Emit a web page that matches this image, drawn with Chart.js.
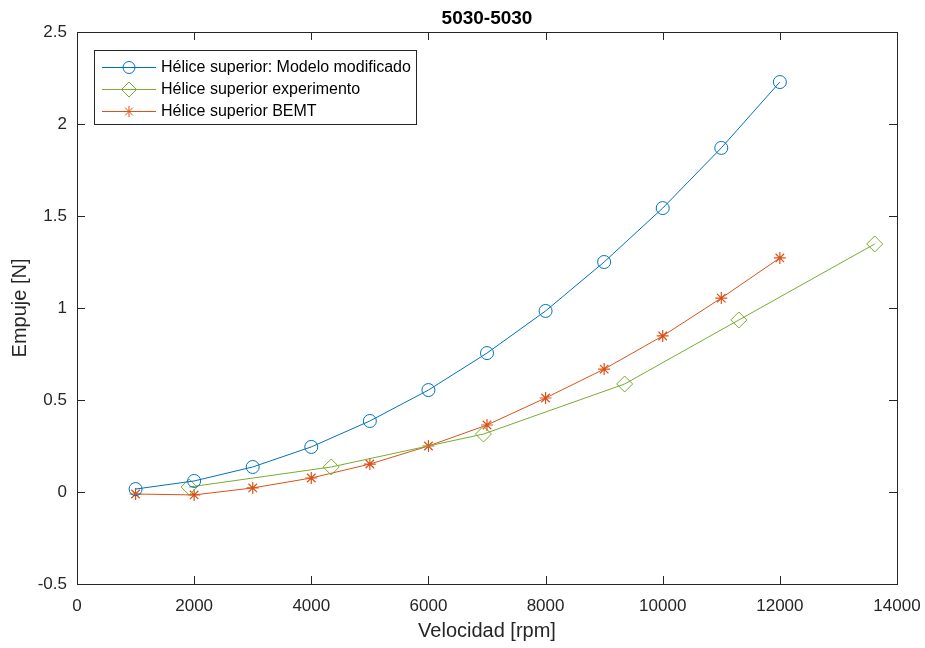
<!DOCTYPE html>
<html lang="es">
<head>
<meta charset="UTF-8">
<title>5030-5030</title>
<style>
  html, body { margin: 0; padding: 0; background: #fff; }
  #wrap { width: 925px; height: 648px; }
</style>
<script src="https://cdn.jsdelivr.net/npm/chart.js"></script>
</head>
<body>
<div id="wrap"><canvas id="empuje" width="925" height="648"></canvas></div>
<script>
// rpm y empuje de cada curva
const rpmModelo = [1000, 2000, 3000, 4000, 5000, 6000, 7000, 8000, 9000, 10000, 11000, 12000];
const empujeModelo = [0.016, 0.06, 0.136, 0.245, 0.386, 0.554, 0.755, 0.984, 1.25, 1.543, 1.87, 2.228];

const rpmExperimento = [1915, 4340, 6940, 9350, 11300, 13620];
const empujeExperimento = [0.027, 0.136, 0.315, 0.587, 0.935, 1.348];

const rpmBEMT = [1000, 2000, 3000, 4000, 5000, 6000, 7000, 8000, 9000, 10000, 11000, 12000];
const empujeBEMT = [-0.011, -0.016, 0.022, 0.076, 0.152, 0.25, 0.364, 0.511, 0.668, 0.848, 1.054, 1.272];

const xTicks = [0, 2000, 4000, 6000, 8000, 10000, 12000, 14000];
const yTicks = [-0.5, 0, 0.5, 1, 1.5, 2, 2.5];

const seriesNames = ['Hélice superior: Modelo modificado', 'Hélice superior experimento', 'Hélice superior BEMT'];

const azul = '#0072BD', verde = '#77AC30', naranja = '#D95319';
const FONT = '"Liberation Sans", Arial, sans-serif';

function puntos(xs, ys) {
  return xs.map((x, i) => ({ x: x, y: ys[i] }));
}

// ejes estilo MATLAB: caja completa, ticks hacia dentro, leyenda dentro
const ejesMatlab = {
  id: 'ejesMatlab',
  afterDraw(chart) {
    const ctx = chart.ctx;
    const a = chart.chartArea;
    const xs = chart.scales.x, ys = chart.scales.y;
    ctx.save();
    ctx.strokeStyle = '#262626';
    ctx.lineWidth = 1;
    ctx.beginPath();
    xTicks.forEach(v => {
      const px = Math.round(xs.getPixelForValue(v)) + 0.5;
      ctx.moveTo(px, a.bottom); ctx.lineTo(px, a.bottom - 8);
      ctx.moveTo(px, a.top); ctx.lineTo(px, a.top + 8);
    });
    yTicks.forEach(v => {
      const py = Math.round(ys.getPixelForValue(v)) + 0.5;
      ctx.moveTo(a.left, py); ctx.lineTo(a.left + 8, py);
      ctx.moveTo(a.right, py); ctx.lineTo(a.right - 8, py);
    });
    ctx.stroke();
    ctx.strokeRect(Math.round(a.left) + 0.5, Math.round(a.top) + 0.5,
                   Math.round(a.right - a.left), Math.round(a.bottom - a.top));

    // título
    ctx.fillStyle = '#000';
    ctx.font = 'bold 19px ' + FONT;
    ctx.textAlign = 'center';
    ctx.textBaseline = 'alphabetic';
    ctx.fillText('5030-5030', (a.left + a.right) / 2, 24);

    // leyenda
    const lx = 94, ly = 50, lw = 322, lh = 74;
    ctx.fillStyle = '#fff';
    ctx.fillRect(lx, ly, lw, lh);
    ctx.strokeStyle = '#262626';
    ctx.strokeRect(lx + 0.5, ly + 0.5, lw, lh);
    ctx.font = '16px ' + FONT;
    ctx.textAlign = 'left';
    ctx.textBaseline = 'middle';
    chart.data.datasets.forEach((ds, i) => {
      const cy = ly + 17 + i * 22;
      ctx.strokeStyle = ds.borderColor;
      ctx.lineWidth = 1;
      ctx.beginPath();
      ctx.moveTo(lx + 8, cy + 0.5); ctx.lineTo(lx + 62, cy + 0.5);
      ctx.stroke();
      ctx.fillStyle = 'rgba(0,0,0,0)';
      Chart.helpers.drawPoint(ctx, {
        pointStyle: ds.pointStyle, radius: ds.pointRadius - 0.5, borderWidth: 1
      }, lx + 35, cy + 0.5);
      ctx.fillStyle = '#000';
      ctx.fillText(ds.label, lx + 67, cy + 1);
    });
    ctx.restore();
  }
};

const ctx = document.getElementById('empuje').getContext('2d');
new Chart(ctx, {
  type: 'scatter',
  data: {
    datasets: [
      {
        label: seriesNames[0], data: puntos(rpmModelo, empujeModelo),
        showLine: true, borderColor: azul, backgroundColor: 'transparent',
        borderWidth: 1, pointStyle: 'circle', pointRadius: 6.5,
        pointBorderColor: azul, pointBackgroundColor: 'transparent', pointBorderWidth: 1
      },
      {
        label: seriesNames[1], data: puntos(rpmExperimento, empujeExperimento),
        showLine: true, borderColor: verde, backgroundColor: 'transparent',
        borderWidth: 1, pointStyle: 'rectRot', pointRadius: 8,
        pointBorderColor: verde, pointBackgroundColor: 'transparent', pointBorderWidth: 1
      },
      {
        label: seriesNames[2], data: puntos(rpmBEMT, empujeBEMT),
        showLine: true, borderColor: naranja, backgroundColor: 'transparent',
        borderWidth: 1, pointStyle: 'star', pointRadius: 6,
        pointBorderColor: naranja, pointBackgroundColor: 'transparent', pointBorderWidth: 1.2
      }
    ]
  },
  options: {
    responsive: false,
    animation: false,
    layout: { padding: { top: 32, right: 28, left: 0, bottom: 0 } },
    plugins: {
      legend: { display: false },
      tooltip: { enabled: false }
    },
    scales: {
      x: {
        type: 'linear', min: 0, max: 14000,
        afterBuildTicks: s => { s.ticks = xTicks.map(v => ({ value: v })); },
        afterFit: s => { s.height = 64; s.paddingLeft = 0; s.paddingRight = 0; },
        grid: { display: false, drawTicks: false },
        border: { display: false },
        ticks: { color: '#262626', font: { family: FONT, size: 17 }, padding: 12, maxRotation: 0,
                 callback: v => String(v) },
        title: { display: true, text: 'Velocidad [rpm]', color: '#262626',
                 font: { family: FONT, size: 20 }, padding: { top: 0, bottom: 5 } }
      },
      y: {
        type: 'linear', min: -0.5, max: 2.5,
        afterBuildTicks: s => { s.ticks = yTicks.map(v => ({ value: v })); },
        afterFit: s => { s.width = 77; s.paddingTop = 0; s.paddingBottom = 0; },
        grid: { display: false, drawTicks: false },
        border: { display: false },
        ticks: { color: '#262626', font: { family: FONT, size: 17 }, padding: 10,
                 callback: v => String(v) },
        title: { display: true, text: 'Empuje [N]', color: '#262626',
                 font: { family: FONT, size: 20 }, padding: { top: 8, bottom: 0 } }
      }
    }
  },
  plugins: [ejesMatlab]
});
</script>
</body>
</html>
